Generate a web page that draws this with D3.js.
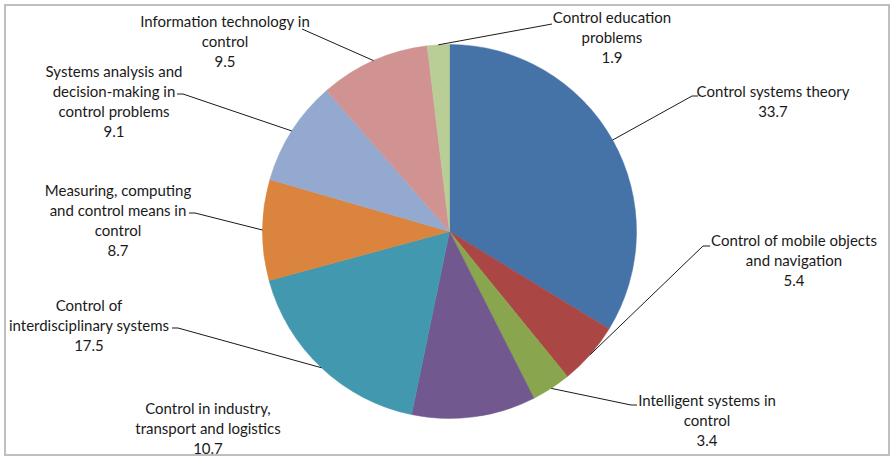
<!DOCTYPE html>
<html>
<head>
<meta charset="utf-8">
<script src="https://cdn.jsdelivr.net/npm/d3@7"></script>
<style>
  html, body { margin: 0; padding: 0; background: #fff; }
  svg { display: block; }
</style>
</head>
<body>
<svg id="chart" width="894" height="458"></svg>
<script>
// Research areas and their shares
const categories = [
  "Control systems theory",
  "Control of mobile objects and navigation",
  "Intelligent systems in control",
  "Control in industry, transport and logistics",
  "Control of interdisciplinary systems",
  "Measuring, computing and control means in control",
  "Systems analysis and decision-making in control problems",
  "Information technology in control",
  "Control education problems"
];
const values = [33.7, 5.4, 3.4, 10.7, 17.5, 8.7, 9.1, 9.5, 1.9];

// Label text, split into the lines shown next to each slice
const labelLines = [
  ["Control systems theory"],
  ["Control of mobile objects", "and navigation"],
  ["Intelligent systems in", "control"],
  ["Control in industry,", "transport and logistics"],
  ["Control of", "interdisciplinary systems"],
  ["Measuring, computing", "and control means in", "control"],
  ["Systems analysis and", "decision-making in", "control problems"],
  ["Information technology in", "control"],
  ["Control education", "problems"]
];

const colors = ["#4572A7", "#AA4643", "#89A54E", "#71588F", "#4198AF",
                "#DB843D", "#93A9CF", "#D19392", "#B9CD96"];

// Label layout: text centre x, first-line y, and where the leader meets the label
// (null = no leader line)
const labelLayout = [
  { x: 773, y: 92,  hook: [692, 96],  tip: [698, 96] },
  { x: 794, y: 241, hook: [703, 246], tip: [710, 246] },
  { x: 707, y: 401, hook: [631, 405], tip: [637, 405] },
  { x: 208, y: 409, hook: null },
  { x: 89,  y: 306, hook: [178, 328], tip: [172, 328] },
  { x: 118, y: 191, hook: [195, 213], tip: [189, 213] },
  { x: 114, y: 72,  hook: [183, 94],  tip: [177, 94] },
  { x: 225, y: 22,  hook: [302, 29],  tip: [302, 29] },
  { x: 612, y: 18,  hook: [552, 24],  tip: [552, 24] }
];

const svg = d3.select("#chart");
const W = 894, H = 458;

// chart frame
svg.append("rect")
  .attr("x", 5).attr("y", 5)
  .attr("width", W - 10).attr("height", H - 8)
  .attr("fill", "#fff")
  .attr("stroke", "#BFBFBF")
  .attr("stroke-width", 2);

const cx = 449.5, cy = 231.5, R = 187;

const pie = d3.pie().sort(null).value(d => d)
  .startAngle(0).endAngle(2 * Math.PI);
const arcs = pie(values);
const arc = d3.arc().innerRadius(0).outerRadius(R);

const g = svg.append("g").attr("transform", `translate(${cx},${cy})`);

g.selectAll("path.slice")
  .data(arcs)
  .join("path")
  .attr("class", "slice")
  .attr("d", arc)
  .attr("fill", (d, i) => colors[i])
  .attr("stroke", (d, i) => colors[i])
  .attr("stroke-width", 0.5);

// leader lines from the slice rim (mid-angle) to the label
const rimPoint = d => {
  const a = (d.startAngle + d.endAngle) / 2;
  return [cx + R * Math.sin(a), cy - R * Math.cos(a)];
};

arcs.forEach((d, i) => {
  const L = labelLayout[i];
  if (!L.hook) return;
  const p = rimPoint(d);
  svg.append("path")
    .attr("d", d3.line()([p, L.hook, L.tip]))
    .attr("fill", "none")
    .attr("stroke", "#1a1a1a")
    .attr("stroke-width", 1);
});

// labels: name lines then the value
const lineH = 19.8;
arcs.forEach((d, i) => {
  const L = labelLayout[i];
  const lines = labelLines[i].concat([d3.format(".1f")(values[i])]);
  const t = svg.append("text")
    .attr("text-anchor", "middle")
    .attr("font-family", "Lato, 'Open Sans', sans-serif")
    .attr("font-size", 15)
    .attr("fill", "#1a1a1a");
  lines.forEach((s, k) => {
    t.append("tspan")
      .attr("x", L.x)
      .attr("y", L.y + k * lineH)
      .attr("dy", "0.35em")
      .text(s);
  });
});
</script>
</body>
</html>
